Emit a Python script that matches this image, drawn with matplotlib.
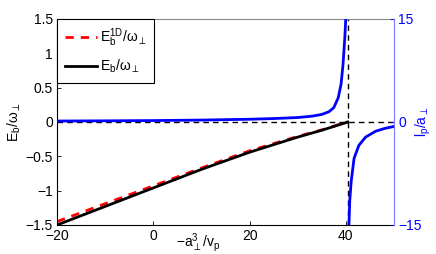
import numpy as np
import matplotlib
matplotlib.use('Agg')
import matplotlib.pyplot as plt

plt.rcParams['font.family'] = ['Liberation Sans', 'DejaVu Sans']
plt.rcParams['mathtext.fontset'] = 'custom'
plt.rcParams['mathtext.rm'] = 'Liberation Sans'
plt.rcParams['mathtext.it'] = 'Liberation Sans'
plt.rcParams['font.size'] = 10

# binding energies vs -a_perp^3/v_p
xe = [-20, -10, 0, 10, 20, 30, 35, 40, 40.4]
eb = [-1.50, -1.23, -0.96, -0.69, -0.44, -0.22, -0.12, -0.01, 0.0]
eb1d = [-1.45, -1.19, -0.93, -0.67, -0.42, -0.21, -0.115, -0.005, 0.0]

# l_p / a_perp, left and right branch of the resonance
xl = [-20, -10, 0, 10, 20, 25, 30, 33, 35, 36.5, 37.5, 38.4, 39.0, 39.4, 39.8, 40.05]
lpl = [0.14, 0.17, 0.21, 0.28, 0.40, 0.50, 0.65, 0.85, 1.1, 1.5, 2.1, 3.5, 5.5, 8.3, 12.5, 16.0]
xr = [40.6, 40.8, 41.1, 41.7, 42.7, 44.1, 46.2, 48, 50]
lpr = [-16.0, -11.5, -8.7, -5.3, -3.4, -2.2, -1.34, -0.95, -0.65]

x_res = 40.4

fig = plt.figure(figsize=(4.36, 2.54), dpi=100)
ax = fig.add_axes([0.1307, 0.1142, 0.7730, 0.8110])
ax.axhline(0, color='k', ls='--', lw=1, dashes=(4, 3))
ax.axvline(x_res, color='k', ls='--', lw=1, dashes=(4, 3))
ax.plot(xe, eb1d, 'r--', lw=2, dashes=(3, 2.5), label=r'E$_\mathrm{b}^\mathrm{1D}$/$\omega_\perp$')
ax.plot(xe, eb, 'k-', lw=2, label=r'E$_\mathrm{b}$/$\omega_\perp$')
ax.set_xlim(-20, 50)
ax.set_ylim(-1.5, 1.5)
ax.set_xticks([-20, 0, 20, 40])
ax.set_yticks([-1.5, -1, -0.5, 0, 0.5, 1, 1.5])
ax.set_yticklabels(['\u22121.5', '\u22121', '\u22120.5', '0', '0.5', '1', '1.5'])
ax.set_xticklabels(['\u221220', '0', '20', '40'])
ax.tick_params(direction='in', length=3, width=0.6, pad=3)
for s in ['top', 'left', 'bottom']:
    ax.spines[s].set_linewidth(0.8)
ax.spines['top'].set_color('#888888')
ax.spines['right'].set_visible(False)
ax.set_xlabel(r'$-$a$_\perp^3$/v$_\mathrm{p}$')
ax.xaxis.set_label_coords(0.42, -0.03)
ax.set_ylabel(r'E$_\mathrm{b}$/$\omega_\perp$', labelpad=2)

leg = ax.legend(loc='upper left', fancybox=False, framealpha=1, edgecolor='k',
                borderaxespad=0, handlelength=2.3, handletextpad=0.25,
                borderpad=0.55, labelspacing=0.6)
leg.get_frame().set_linewidth(0.8)

ax2 = ax.twinx()
ax2.plot(xl, lpl, color='#0000ff', lw=2)
ax2.plot(xr, lpr, color='#0000ff', lw=2)
ax2.set_ylim(-15, 15)
ax2.set_yticks([-15, 0, 15])
ax2.set_yticklabels(['\u221215', '0', '15'])
ax2.tick_params(direction='in', length=3, width=0.6, colors='#0000ff', pad=3)
for s in ['top', 'left', 'bottom']:
    ax2.spines[s].set_visible(False)
ax2.spines['right'].set_color('#7777ff')
ax2.spines['right'].set_linewidth(0.8)
ax2.set_ylabel(r'l$_\mathrm{p}$/a$_\perp$', color='#0000ff')
ax2.yaxis.set_label_coords(1.059, 0.5)

fig.savefig('out.png', dpi=100)
